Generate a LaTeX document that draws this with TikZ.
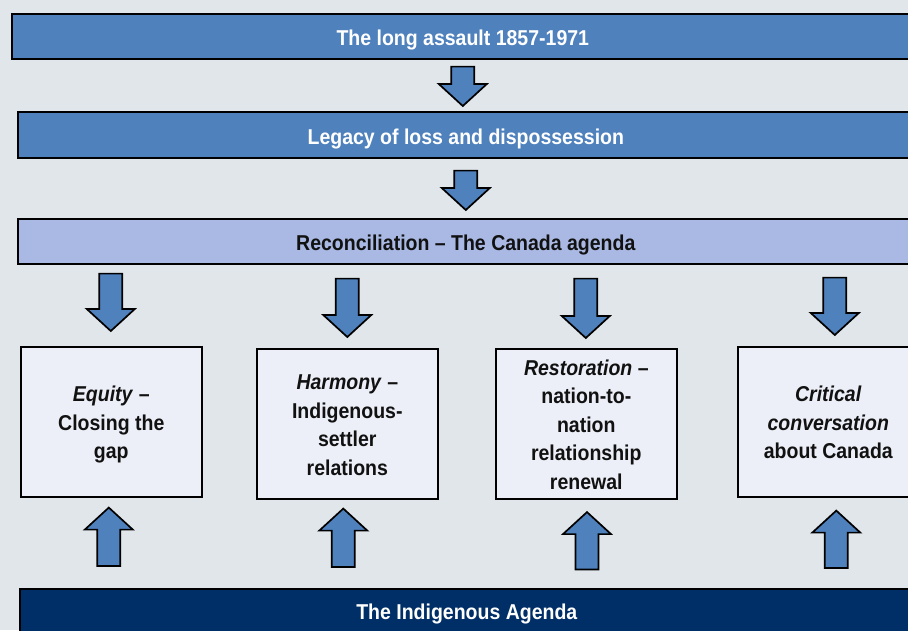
\documentclass[tikz,border=0pt]{standalone}
\usepackage{fontspec}
\setmainfont{Liberation Sans}[FakeStretch=0.907]
\usetikzlibrary{calc}
\definecolor{bgcol}{HTML}{E1E6EA}
\definecolor{midblue}{HTML}{4F81BD}
\definecolor{paleblue}{HTML}{A9B9E3}
\definecolor{boxfill}{HTML}{ECEFF7}
\definecolor{navy}{HTML}{002E66}
\definecolor{ink}{HTML}{111111}
\newcommand{\blockarrow}[2]{%
\coordinate (hb) at ($(#2)!22pt!(#1)$);
\draw [arrowbody] ($(#1)!11.5pt!90:(#2)$) -- ($(hb)!11.5pt!90:(#2)$) -- ($(hb)!24pt!90:(#2)$) -- (#2) -- ($(hb)!24pt!-90:(#2)$) -- ($(hb)!11.5pt!-90:(#2)$) -- ($(#1)!11.5pt!-90:(#2)$) -- cycle;}

\begin{document}
\begin{tikzpicture}[x=1pt,y=-1pt]
\tikzstyle{every node}+=[font=\fontsize{21.5}{28.5}\selectfont\bfseries, inner sep=0pt]
\tikzstyle{bar}=[draw=black, line width=1.6pt, fill=midblue, text=white, minimum height=45pt, anchor=north west, text height=18.5pt, text depth=0pt]
\tikzstyle{topic}=[draw=black, line width=1.6pt, fill=boxfill, text=ink, minimum width=181pt, minimum height=150pt, anchor=north west, align=center, text depth=0pt]
\tikzstyle{arrowbody}=[draw=black, line width=1.7pt, fill=midblue, line join=miter]
\useasboundingbox (0,0) rectangle (908,630);
\clip (0,0) rectangle (908,630);
\fill [bgcol] (0,0) rectangle (908,630);
\node [bar, minimum width=902pt] (assault) at (11,13) {The long assault 1857-1971};
\node [bar, minimum width=896pt, minimum height=46pt] (legacy) at (17,111) {Legacy of loss and dispossession};
\node [bar, minimum width=896pt, fill=paleblue, text=ink] (reconcile) at (17,218) {Reconciliation – The Canada agenda};
\node [bar, minimum width=894pt, minimum height=48pt, fill=navy, text height=14pt] (agenda) at (19,588) {The Indigenous Agenda};
\node [topic, text height=74pt] (equity) at (20,346) {\textit{Equity} –\\Closing the\\gap};
\node [topic, text height=102.5pt] (harmony) at (256,348) {\textit{Harmony} –\\Indigenous-\\settler\\relations};
\node [topic, text height=131pt] (restore) at (495,348) {\textit{Restoration} –\\nation-to-\\nation\\relationship\\renewal};
\node [topic, text height=74pt] (critical) at (737,346) {\textit{Critical}\\\textit{conversation}\\about Canada};
\coordinate (s1) at ([yshift=-7pt]assault.south);
\coordinate (t1) at ([yshift=5pt]assault.south |- legacy.north);
\coordinate (s2) at ([yshift=-12pt]legacy.south);
\coordinate (t2) at ([yshift=8pt]reconcile.north -| legacy.south);
\coordinate (r1) at ([xshift=-0.5pt,yshift=-9pt]reconcile.south -| equity.north);
\coordinate (q1) at ([xshift=-0.5pt,yshift=15pt]equity.north);
\coordinate (r2) at ([yshift=-14pt]reconcile.south -| harmony.north);
\coordinate (q2) at ([yshift=11pt]harmony.north);
\coordinate (r3) at ([xshift=-0.5pt,yshift=-14pt]reconcile.south -| restore.north);
\coordinate (q3) at ([xshift=-0.5pt,yshift=10pt]restore.north);
\coordinate (r4) at ([xshift=6.5pt,yshift=-13pt]reconcile.south -| critical.north);
\coordinate (q4) at ([xshift=6.5pt,yshift=11pt]critical.north);
\coordinate (u1) at ([xshift=-2.5pt,yshift=22pt]agenda.north -| equity.south);
\coordinate (v1) at ([xshift=-2.5pt,yshift=-10pt]equity.south);
\coordinate (u2) at ([xshift=-4pt,yshift=21pt]agenda.north -| harmony.south);
\coordinate (v2) at ([xshift=-4pt,yshift=-9pt]harmony.south);
\coordinate (u3) at ([xshift=0.7pt,yshift=18.5pt]agenda.north -| restore.south);
\coordinate (v3) at ([xshift=0.7pt,yshift=-12.5pt]restore.south);
\coordinate (u4) at ([xshift=8pt,yshift=20pt]agenda.north -| critical.south);
\coordinate (v4) at ([xshift=8pt,yshift=-13pt]critical.south);
\blockarrow{s1}{t1}
\blockarrow{s2}{t2}
\foreach \i in {1,...,4} {
\blockarrow{r\i}{q\i}
\blockarrow{u\i}{v\i}
}
\end{tikzpicture}
\end{document}
